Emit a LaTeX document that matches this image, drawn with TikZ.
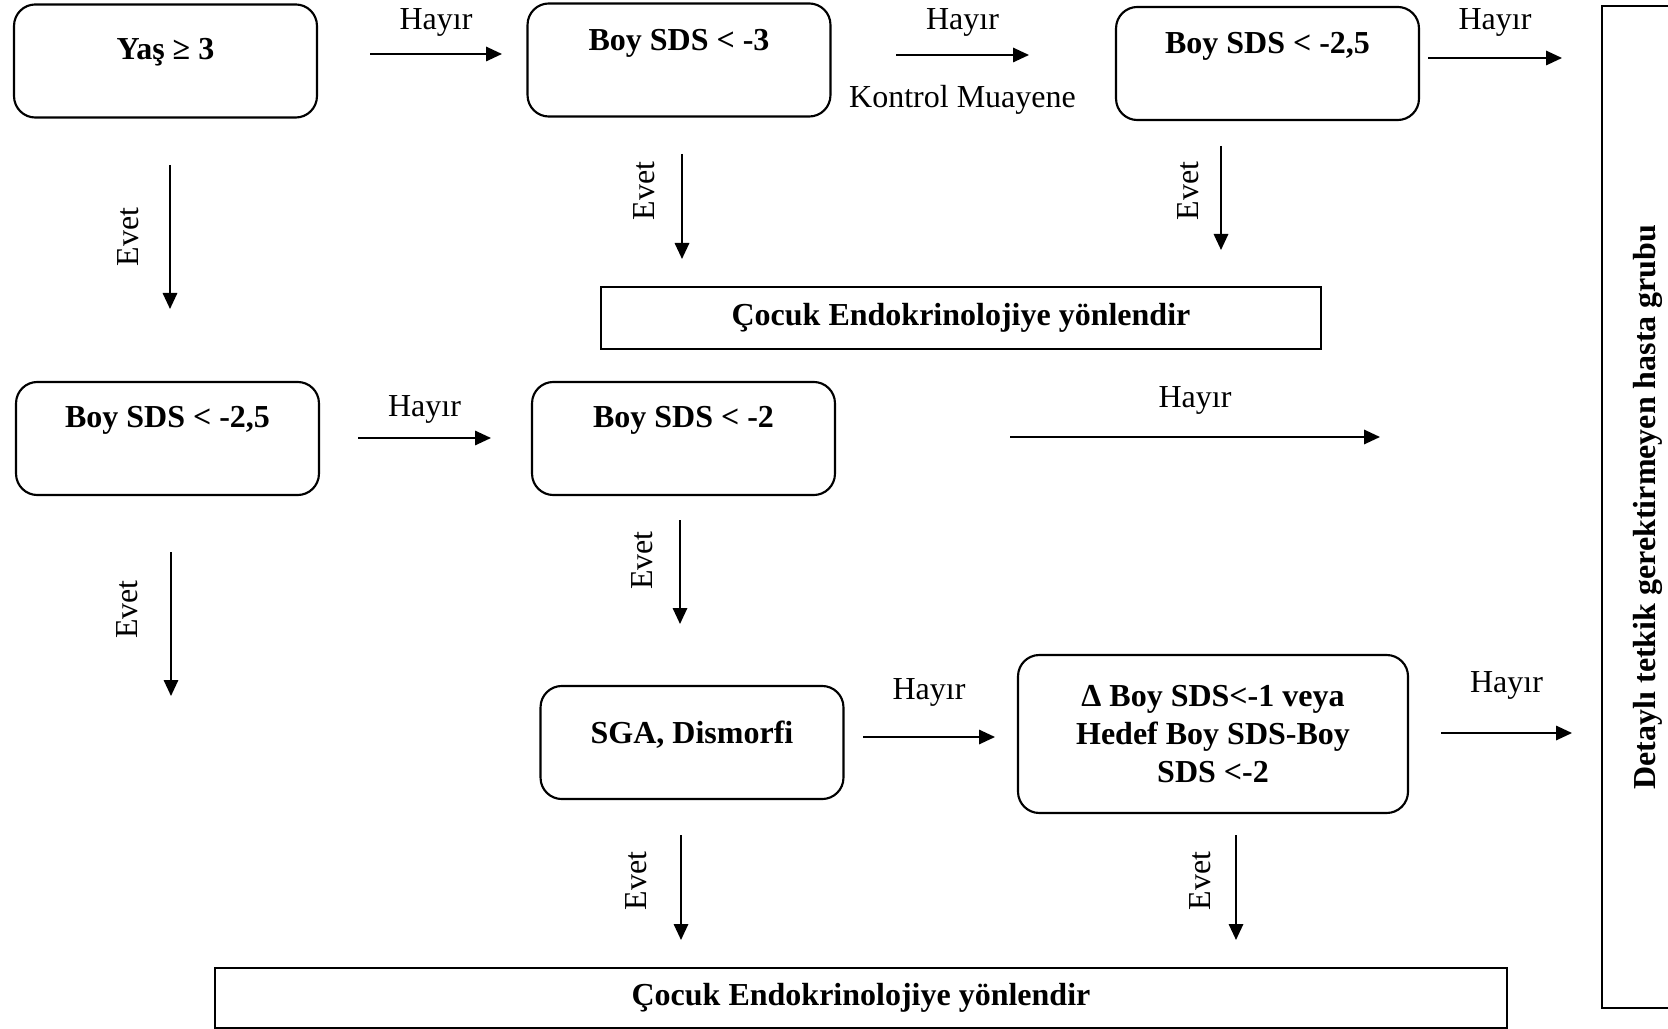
\documentclass[tikz,border=0pt]{standalone}
\usepackage{fontspec}
\setmainfont{Liberation Serif}
\usetikzlibrary{arrows.meta, positioning}

\begin{document}
\begin{tikzpicture}[
    x=0.375pt, y=-0.375pt,
    font=\fontsize{12}{14.4}\selectfont,
    rbox/.style={rectangle, draw, line width=0.8pt, rounded corners=8pt, minimum width=113.6pt, minimum height=42.4pt, align=center, font=\fontsize{12}{14.4}\selectfont\bfseries},
    sbox/.style={rectangle, draw, line width=0.6pt, font=\fontsize{12}{14.4}\selectfont\bfseries},
    boxtxt/.style={anchor=north, font=\fontsize{12}{14.4}\selectfont\bfseries},
    arrow/.style={-{Triangle[length=6pt,width=5.4pt]}, line width=0.75pt},
    evet/.style={xshift=#1, rotate=90},
    evet/.default=-14pt
]
\useasboundingbox (0,0) rectangle (1668,1029);

% decision boxes
\node[rbox, label={[boxtxt, yshift=-9.6pt]north:Yaş ≥ 3}] (yas) at (165.5,61) {};
\node[rbox, label={[boxtxt, yshift=-6.4pt]north:Boy SDS < -3}] (sds3) at (679,60) {};
\node[rbox, label={[boxtxt, yshift=-6.4pt]north:Boy SDS < -2,5}] (sdsA) at (1267.5,63.5) {};
\node[rbox, label={[boxtxt, yshift=-6pt]north:Boy SDS < -2,5}] (sdsB) at (167.5,438.5) {};
\node[rbox, label={[boxtxt, yshift=-6pt]north:Boy SDS < -2}] (sds2) at (683.5,438.5) {};
\node[rbox, label={[boxtxt, yshift=-10pt]north:SGA, Dismorfi}] (sga) at (692,742.5) {};
\node[rbox, minimum width=146.25pt, minimum height=59.25pt] (delta) at (1213,734) {Δ Boy SDS<-1 veya\\Hedef Boy SDS-Boy\\SDS <-2};

% result boxes
\node[sbox, minimum width=270pt, minimum height=23.25pt] (endoA) at (961,318) {Çocuk Endokrinolojiye yönlendir};
\node[sbox, minimum width=484.5pt, minimum height=22.5pt] (endoB) at (861,998) {Çocuk Endokrinolojiye yönlendir};
\node[sbox, rotate=90, minimum width=375.75pt, minimum height=34.5pt] (detay) at (1648,507) {Detaylı tetkik gerektirmeyen hasta grubu};

% arrow ends
\coordinate (yasR) at (370,54);   \coordinate (sds3L) at (502,54);
\coordinate (sds3R) at (896,55);  \coordinate (sdsAL) at (1029,55);
\coordinate (sdsAR) at (1428,58); \coordinate (detA) at (1562,58);
\coordinate (sdsBR) at (358,438); \coordinate (sds2L) at (491,438);
\coordinate (sds2R) at (1010,437); \coordinate (detB) at (1380,437);
\coordinate (sgaR) at (863,737);  \coordinate (deltaL) at (995,737);
\coordinate (deltaR) at (1441,733); \coordinate (detC) at (1572,733);
\coordinate (yasD) at (170,165);  \coordinate (sdsBU) at (170,309);
\coordinate (sds3D) at (682,154); \coordinate (endoAL) at (682,259);
\coordinate (sdsAD) at (1221,146); \coordinate (endoAR) at (1221,250);
\coordinate (sdsBD) at (171,552); \coordinate (sdsBE) at (171,696);
\coordinate (sds2D) at (680,520); \coordinate (sgaU) at (680,624);
\coordinate (sgaD) at (681,835);  \coordinate (endoBL) at (681,940);
\coordinate (deltaD) at (1236,835); \coordinate (endoBR) at (1236,940);

% Hayir
\draw[arrow] (yasR) -- (sds3L) node[midway, above=2.8pt] {Hayır};
\draw[arrow] (sds3R) -- (sdsAL) node[midway, above=3.1pt] {Hayır} node[midway, below=7.6pt] {Kontrol Muayene};
\draw[arrow] (sdsAR) -- (detA) node[midway, above=4.3pt] {Hayır};
\draw[arrow] (sdsBR) -- (sds2L) node[midway, above=1.6pt] {Hayır};
\draw[arrow] (sds2R) -- (detB) node[midway, above=4.6pt] {Hayır};
\draw[arrow] (sgaR) -- (deltaL) node[midway, above=7.6pt] {Hayır};
\draw[arrow] (deltaR) -- (detC) node[midway, above=8.8pt] {Hayır};

% Evet
\draw[arrow] (yasD) -- (sdsBU) node[midway, evet=-15.5pt] {Evet};
\draw[arrow] (sds3D) -- (endoAL) node[pos=.35, evet=-14.2pt] {Evet};
\draw[arrow] (sdsAD) -- (endoAR) node[pos=.43, evet=-12.4pt] {Evet};
\draw[arrow] (sdsBD) -- (sdsBE) node[pos=.4, evet=-16.3pt] {Evet};
\draw[arrow] (sds2D) -- (sgaU) node[pos=.39, evet=-14.2pt] {Evet};
\draw[arrow] (sgaD) -- (endoBL) node[pos=.44, evet=-16.8pt] {Evet};
\draw[arrow] (deltaD) -- (endoBR) node[pos=.44, evet=-13.5pt] {Evet};
\end{tikzpicture}
\end{document}
